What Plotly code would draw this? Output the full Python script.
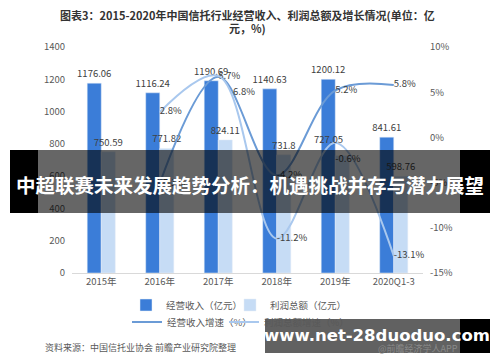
import plotly.graph_objects as go

categories = ["2015年", "2016年", "2017年", "2018年", "2019年", "2020Q1-3"]
revenue = [1176.06, 1116.24, 1190.69, 1140.63, 1200.12, 841.61]
profit = [750.59, 771.82, 824.11, 731.8, 727.05, 598.76]
revenue_growth = [None, -5.1, 6.7, -4.2, 5.2, 5.8]
profit_growth = [None, 2.8, 6.8, -11.2, -0.6, -13.1]
left_ticks = [0, 200, 400, 600, 800, 1000, 1200, 1400]
right_ticks = [-15, -10, -5, 0, 5, 10]
title_lines = ["图表3：2015-2020年中国信托行业经营收入、利润总额及增长情况(单位：亿", "元，%)"]

W, H = 500, 362
L, R, T, B = 72, 77, 47, 89
PW, PH = W - L - R, H - T - B


def px(x):
    return (x - L) / PW


def py(y):
    return (H - B - y) / PH


FONT = "Noto Sans CJK SC, Microsoft YaHei, sans-serif"
REV_C = "#3b7dd8"
PRO_C = "#c6dcf5"
REVG_C = "#6b9bd6"
PROG_C = "#a9c8ee"
LBL = dict(size=9.5, color="#404040", family=FONT)

# labels that sit away from their default spot are drawn as annotations
profit_bar_offset = {4: (-14, 17)}
profit_growth_offset = {2: (13, -15)}
# labels pushed one line lower (they sit under the banner, so stay trace text)
profit_growth_lower = {4}

fig = go.Figure()
fig.add_trace(go.Bar(
    x=categories, y=revenue, name="经营收入（亿元）", marker_color=REV_C,
    text=[f"{v:g}" for v in revenue], textposition="outside", cliponaxis=False,
    constraintext="none", textfont=LBL, legend="legend2"))
fig.add_trace(go.Bar(
    x=categories, y=profit, name="利润总额（亿元）", marker_color=PRO_C,
    text=[("" if i in profit_bar_offset else f"{v:g}") for i, v in enumerate(profit)],
    textposition="outside", cliponaxis=False, constraintext="none", textfont=LBL,
    legend="legend3"))


def pg_text(i, v):
    if v is None or i in profit_growth_offset:
        return ""
    s = f"{v:.1f}%"
    if i in profit_growth_lower:
        s = " <br>" + s
    return s


pro_pos = ["middle right", "middle right", "middle right", "middle right", "bottom right", "middle right"]
fig.add_trace(go.Scatter(
    x=categories, y=revenue_growth, name="经营收入增速（%）", yaxis="y2",
    mode="lines+text", line=dict(color=REVG_C, width=2, shape="spline", smoothing=1),
    text=[("" if v is None else f"{v:.1f}%") for v in revenue_growth],
    textposition="middle right", textfont=LBL,
    cliponaxis=False, legend="legend4"))
fig.add_trace(go.Scatter(
    x=categories, y=profit_growth, name="利润总额增速（%）", yaxis="y2",
    mode="lines+text", line=dict(color=PROG_C, width=2, shape="spline", smoothing=1),
    text=[pg_text(i, v) for i, v in enumerate(profit_growth)],
    textposition=pro_pos, textfont=LBL,
    cliponaxis=False, legend="legend5"))

shapes = [
    dict(type="rect", xref="paper", yref="paper", x0=px(38), x1=px(460), y0=py(213), y1=py(150),
         fillcolor="rgba(0,0,0,0.6)", line_width=0, layer="above"),
    dict(type="rect", xref="paper", yref="paper", x0=px(10), x1=px(38), y0=py(213), y1=py(150),
         fillcolor="black", line_width=0, layer="above"),
    dict(type="rect", xref="paper", yref="paper", x0=px(460), x1=px(490), y0=py(213), y1=py(150),
         fillcolor="black", line_width=0, layer="above"),
    dict(type="rect", xref="paper", yref="paper", x0=px(265), x1=px(460), y0=py(353), y1=py(319),
         fillcolor="rgba(0,0,0,0.62)", line_width=0, layer="above"),
    dict(type="rect", xref="paper", yref="paper", x0=px(460), x1=px(490), y0=py(353), y1=py(319),
         fillcolor="black", line_width=0, layer="above"),
]

annotations = []
for i, (dx, dy) in profit_growth_offset.items():
    annotations.append(dict(
        text=f"{profit_growth[i]:.1f}%", x=categories[i], y=profit_growth[i], xref="x", yref="y2",
        xanchor="left", yanchor="middle", xshift=dx, yshift=dy, showarrow=False, font=LBL))
for i, (dx, dy) in profit_bar_offset.items():
    annotations.append(dict(
        text=f"{profit[i]:g}", x=categories[i], y=profit[i], xref="x", yref="y",
        xanchor="center", yanchor="middle", xshift=dx + 7, yshift=dy, showarrow=False, font=LBL))
annotations += [
    dict(text=title_lines[0], xref="paper", yref="paper", x=px(247), y=py(15),
         xanchor="center", yanchor="middle", showarrow=False,
         font=dict(size=11, color="#333333", family=FONT, weight="bold")),
    dict(text=title_lines[1], xref="paper", yref="paper", x=px(247), y=py(28),
         xanchor="center", yanchor="middle", showarrow=False,
         font=dict(size=11, color="#333333", family=FONT, weight="bold")),
    dict(text="资料来源：中国信托业协会 前瞻产业研究院整理", xref="paper", yref="paper",
         x=px(43), y=py(347), xanchor="left", yanchor="middle", showarrow=False,
         font=dict(size=9, color="#595959", family=FONT)),
    dict(text="@前瞻经济学人APP", xref="paper", yref="paper",
         x=px(460), y=py(348), xanchor="right", yanchor="middle", showarrow=False,
         font=dict(size=9, color="#8a8a8a", family=FONT)),
    dict(text="中超联赛未来发展趋势分析：机遇挑战并存与潜力展望", xref="paper", yref="paper",
         x=px(250), y=py(184), xanchor="center", yanchor="middle", showarrow=False,
         font=dict(size=19.5, color="white", family=FONT, weight="bold")),
    dict(text="www.net-28duoduo.com", xref="paper", yref="paper",
         x=px(377), y=py(335), xanchor="center", yanchor="middle", showarrow=False,
         font=dict(size=16.5, color="white", family="DejaVu Sans, sans-serif", weight="bold")),
]

LEG = dict(orientation="h", xanchor="left", yanchor="middle", xref="paper", yref="paper",
           font=dict(size=9.5, color="#595959", family=FONT), itemwidth=30,
           bgcolor="rgba(0,0,0,0)")

fig.update_layout(
    width=W, height=H, margin=dict(l=L, r=R, t=T, b=B),
    paper_bgcolor="white", plot_bgcolor="white",
    font=dict(family=FONT, size=9.5, color="#595959"),
    barmode="group", bargap=0.52, bargroupgap=0,
    xaxis=dict(showline=True, linecolor="#d9d9d9", linewidth=1, ticks="", showgrid=False,
               tickfont=dict(size=9.5, color="#595959")),
    yaxis=dict(range=[0, 1400], tickvals=left_ticks, showgrid=False, zeroline=False,
               showline=False, tickfont=dict(size=9.5, color="#595959"), ticklabelstandoff=6),
    yaxis2=dict(range=[-15, 10], tickvals=right_ticks, ticktext=[f"{v}%" for v in right_ticks],
                overlaying="y", side="right", showgrid=False, zeroline=False, showline=False,
                tickfont=dict(size=9.5, color="#595959"), ticklabelstandoff=6),
    legend2=dict(LEG, x=px(126), y=py(305)),
    legend3=dict(LEG, x=px(230), y=py(305)),
    legend4=dict(LEG, x=px(127), y=py(322)),
    legend5=dict(LEG, x=px(224), y=py(322)),
    shapes=shapes, annotations=annotations,
)

fig.write_html("out.html", config={"displayModeBar": False},
               post_script="document.body.style.margin='0';")
